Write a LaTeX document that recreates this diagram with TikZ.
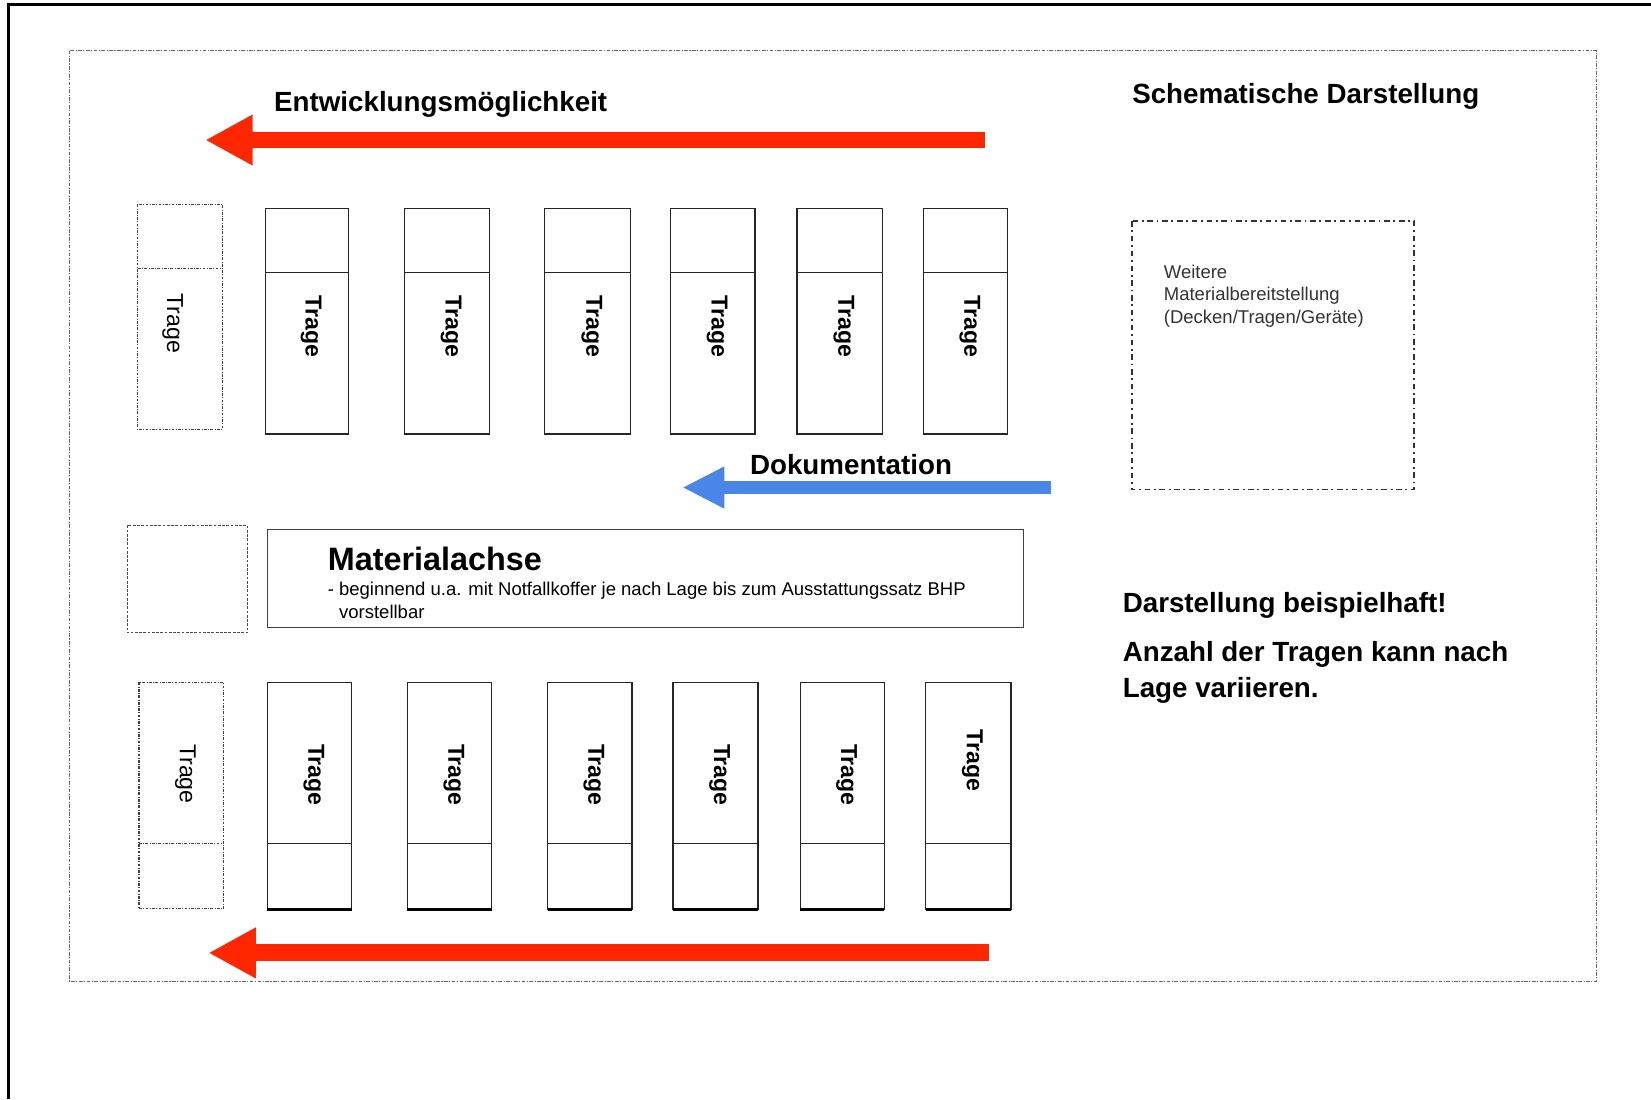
\documentclass[tikz,border=0pt]{standalone}
\usepackage{fontspec}
\setmainfont{Liberation Sans}
\usetikzlibrary{arrows.meta}
\definecolor{arrowred}{RGB}{255,38,0}
\definecolor{docblue}{RGB}{74,134,232}
\tikzset{
    trage/.style={draw=black!85, line width=0.8pt},
    tragegap/.style={draw=black!75, line width=0.6pt, dash pattern=on 1.5pt off 0.8pt on 0.4pt off 0.8pt},
    tragetext/.style={rotate=-90, inner sep=0pt, font=\fontsize{12.5}{15}\selectfont\bfseries},
    headline/.style={anchor=west, inner sep=0pt, font=\fontsize{15}{18}\selectfont\bfseries},
    bigarrow/.style={arrowred, line width=0.32cm, -{Triangle[length=0.9cm,width=0.9cm]}},
}
\begin{document}
\begin{tikzpicture}[x=0.02cm, y=-0.02cm]
    \useasboundingbox (0,0) rectangle (1568,1044);
    % outer frame and dotted border
    \draw[line width=1.7pt] (8,1044) -- (8,4) -- (1568,4);
    \draw[black!60, line width=0.5pt, dash pattern=on 2pt off 0.8pt on 0.6pt off 0.8pt] (66,48) rectangle (1516,932);

    \node[headline] (title) at (1075,92) {Schematische Darstellung};
    \node[headline] (devtop) at (260,99) {Entwicklungsmöglichkeit};

    % red arrows
    \coordinate (devtopR) at (935,133);
    \coordinate (devtopL) at (195,133);
    \draw[bigarrow] (devtopR) -- (devtopL);
    \coordinate (devbotR) at (939,905);
    \coordinate (devbotL) at (198,905);
    \draw[bigarrow] (devbotR) -- (devbotL);

    % top row
    \draw[tragegap] (131,194) rectangle (211,408);
    \draw[tragegap] (131,255) -- (211,255);
    \node[tragetext, font=\fontsize{12.5}{15}\selectfont] (topgap) at (164,307) {Trage};
    \foreach \xa/\xb [count=\i] in {252/331, 384/465, 517/599, 637/717, 757/838, 877/957} {
        \draw[trage] (\xa,198) rectangle (\xb,412);
        \draw[trage] (\xa,259) -- (\xb,259);
        \node[tragetext] (top\i) at ({(\xa+\xb)/2+4},310) {Trage};
    }

    % documentation
    \node[headline] (doku) at (712,441) {Dokumentation};
    \coordinate (dokuR) at (998,463);
    \coordinate (dokuL) at (648,463);
    \draw[docblue, line width=0.26cm, -{Triangle[length=0.8cm,width=0.74cm]}] (dokuR) -- (dokuL);

    % further material
    \draw[black!80, line width=0.8pt, dash pattern=on 3pt off 2pt on 1pt off 2pt] (1075,210) rectangle (1343,465);
    \node[anchor=north west, inner sep=0pt, align=left, text=black!80, font=\fontsize{10}{12.2}\selectfont] (weitere) at (1105,251)
        {Weitere\\Materialbereitstellung\\(Decken/Tragen/Geräte)};

    % material axis
    \draw[black!70, line width=0.6pt, dash pattern=on 1.5pt off 0.8pt] (121,499) rectangle (235,601);
    \draw[black!75, line width=0.8pt] (254,503) rectangle (972,596);
    \node[anchor=west, inner sep=0pt, font=\fontsize{17.5}{20}\selectfont\bfseries] (achse) at (311,531) {Materialachse};
    \node[anchor=north west, inner sep=0pt, align=left, font=\fontsize{10}{12.5}\selectfont] (achsetext) at (311,552)
        {- beginnend u.a. mit Notfallkoffer je nach Lage bis zum Ausstattungssatz BHP\\\phantom{- }vorstellbar};

    % bottom row
    \draw[tragegap] (132,648) rectangle (212,863);
    \draw[tragegap] (132,801) -- (212,801);
    \node[tragetext, font=\fontsize{12.5}{15}\selectfont] (botgap) at (176,735) {Trage};
    \foreach \xa/\xb/\ty [count=\i] in {254/334/736, 387/467/736, 520/600/736, 639/720/736, 760/840/736, 879/960/722} {
        \draw[trage] (\xa,648) rectangle (\xb,864);
        \draw[trage] (\xa,801) -- (\xb,801);
        \draw[line width=1.4pt] (\xa,864) -- (\xb,864);
        \node[tragetext] (bot\i) at ({(\xa+\xb)/2+4},\ty) {Trage};
    }

    % notes
    \node[headline] (note1) at (1066,575) {Darstellung beispielhaft!};
    \node[headline, align=left, font=\fontsize{15}{19.4}\selectfont\bfseries] (note2) at (1066,639)
        {Anzahl der Tragen kann nach\\Lage variieren.};
\end{tikzpicture}
\end{document}
